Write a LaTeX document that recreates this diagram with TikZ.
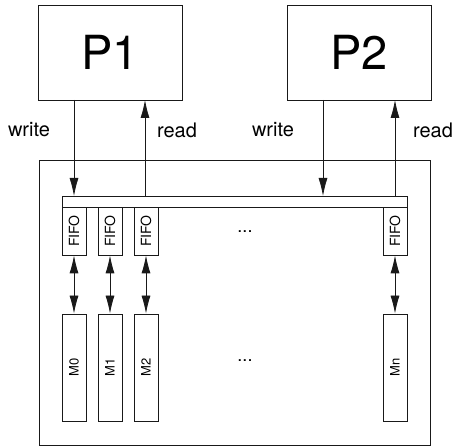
\documentclass[tikz,border=0pt]{standalone}
\usepackage{fontspec}
\setmainfont{TeX Gyre Heros}
\usetikzlibrary{arrows.meta}
\begin{document}
\begin{tikzpicture}[x=1pt,y=-1pt,
  >={Latex[length=18pt,width=9pt]},
  line/.style={draw=black!90, line width=0.8pt},
  proc/.style={line, rectangle, minimum width=144pt, minimum height=95pt, inner sep=0pt, font=\fontsize{47}{47}\selectfont},
  fifo/.style={line, rectangle, minimum width=24pt, minimum height=48pt, inner sep=0pt},
  mem/.style={line, rectangle, minimum width=24pt, minimum height=107pt, inner sep=0pt},
  lbl/.style={font=\fontsize{20}{20}\selectfont, inner sep=0pt},
  arr/.style={line, ->},
  darr/.style={line, <->}
]
\useasboundingbox (0,0) rectangle (456,446);
% processors
\node[proc] (P1) at (110,52.5) {P1};
\node[proc] (P2) at (359,52.5) {P2};
% outer box
\node[line, rectangle, minimum width=391pt, minimum height=285pt, inner sep=0pt] (outer) at (234.5,302.5) {};
% bus
\node[line, rectangle, minimum width=345pt, minimum height=11pt, inner sep=0pt] (bus) at (234.5,201.5) {};
% coordinates on the bus and processors
\coordinate (p1w) at (74,100);  \coordinate (b1w) at (74,196);
\coordinate (p1r) at (145,100); \coordinate (b1r) at (145,196);
\coordinate (p2w) at (323,100); \coordinate (b2w) at (323,196);
\coordinate (p2r) at (395,100); \coordinate (b2r) at (395,196);
\draw[arr] (p1w) -- (b1w);
\draw[arr] (b1r) -- (p1r);
\draw[arr] (p2w) -- (b2w);
\draw[arr] (b2r) -- (p2r);
% labels
\node[lbl] (l1) at (29,130) {write};
\node[lbl] (l2) at (177,130) {read};
\node[lbl] (l3) at (273,130) {write};
\node[lbl] (l4) at (433,130) {read};
% FIFOs
\node[fifo] (F0) at (74,231) {\rotatebox{90}{\fontsize{14}{14}\selectfont FIFO}};
\node[fifo] (F1) at (110,231) {\rotatebox{90}{\fontsize{14}{14}\selectfont FIFO}};
\node[fifo] (F2) at (146,231) {\rotatebox{90}{\fontsize{14}{14}\selectfont FIFO}};
\node[fifo] (Fn) at (395,231) {\rotatebox{90}{\fontsize{14}{14}\selectfont FIFO}};
\node[font=\fontsize{18}{18}\selectfont] (d1) at (245,232) {...};
% memories
\node[mem] (M0) at (74,367.5) {\rotatebox{90}{\fontsize{13}{13}\selectfont M0}};
\node[mem] (M1) at (110,367.5) {\rotatebox{90}{\fontsize{13}{13}\selectfont M1}};
\node[mem] (M2) at (146,367.5) {\rotatebox{90}{\fontsize{13}{13}\selectfont M2}};
\node[mem] (Mn) at (395,367.5) {\rotatebox{90}{\fontsize{13}{13}\selectfont Mn}};
\node[font=\fontsize{18}{18}\selectfont] (d2) at (245,361) {...};
% double arrows
\draw[darr] (F0.south) -- (M0.north);
\draw[darr] (F1.south) -- (M1.north);
\draw[darr] (F2.south) -- (M2.north);
\draw[darr] (Fn.south) -- (Mn.north);
\end{tikzpicture}
\end{document}
